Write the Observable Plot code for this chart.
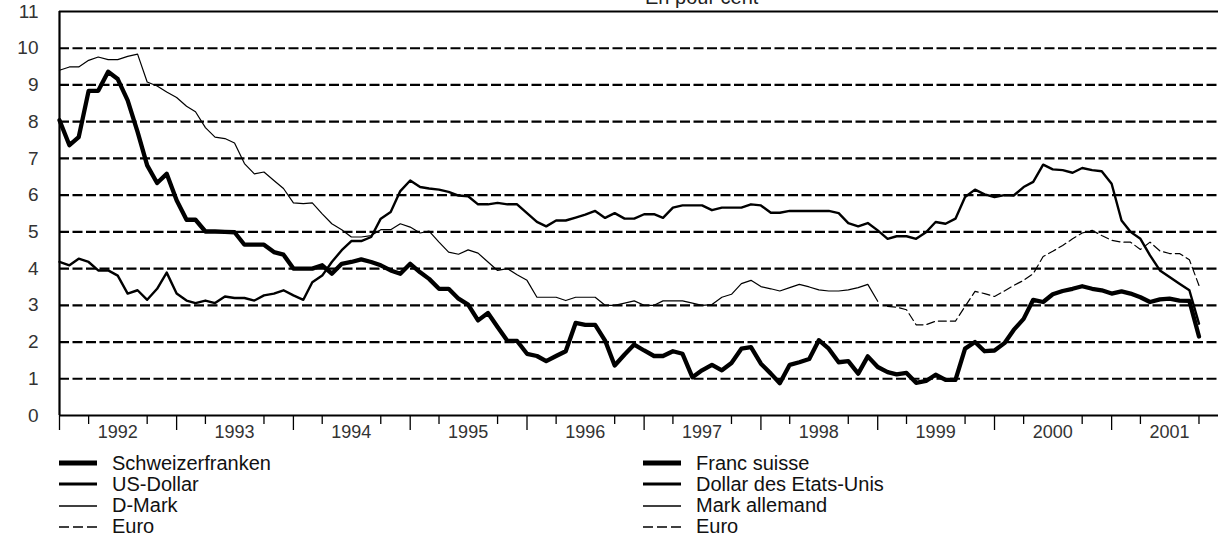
<!DOCTYPE html>
<html><head><meta charset="utf-8">
<script src="https://cdn.jsdelivr.net/npm/d3@7"></script>
<script src="https://cdn.jsdelivr.net/npm/@observablehq/plot@0.6"></script>
<style>
body{margin:0;background:#fff;}
#wrap{position:relative;width:1218px;height:533px;overflow:hidden;font-family:"Liberation Sans",Arial,sans-serif;}
#unit{position:absolute;top:-12px;left:645px;font-size:20px;line-height:19px;color:#222;white-space:nowrap;}
#legend{position:absolute;left:0;top:445px;width:1218px;height:88px;}
.item{position:absolute;height:22px;display:flex;align-items:center;font-size:20px;color:#111;white-space:nowrap;}
.item svg{margin-right:15px;}
</style></head>
<body><div id="wrap"><div id="chart"></div><div id="unit">En pour cent</div><div id="legend"></div></div>
<script>
// ---- data (monthly, Jan 1992 onwards; per cent) ----
const seriesNamesDe = ["Schweizerfranken", "US-Dollar", "D-Mark", "Euro"];
const seriesNamesFr = ["Franc suisse", "Dollar des Etats-Unis", "Mark allemand", "Euro"];
const yLabels = [0,1,2,3,4,5,6,7,8,9,10,11];
const gridValues = [1,2,3,4,5,6,7,8,9,10];

const chf = [8.04,7.36,7.58,8.84,8.84,9.36,9.16,8.58,7.72,6.81,6.33,6.58,
5.86,5.33,5.33,5.01,5.01,5.00,4.99,4.65,4.65,4.65,4.45,4.38,
4.00,4.00,4.00,4.09,3.86,4.13,4.18,4.25,4.18,4.09,3.95,3.86,
4.13,3.90,3.72,3.45,3.45,3.18,3.02,2.59,2.79,2.41,2.03,2.03,
1.68,1.62,1.48,1.62,1.75,2.52,2.47,2.47,2.04,1.36,1.66,1.93,
1.77,1.62,1.62,1.75,1.68,1.04,1.23,1.38,1.23,1.43,1.82,1.86,
1.41,1.14,0.88,1.38,1.45,1.54,2.05,1.82,1.45,1.48,1.14,1.61,
1.32,1.18,1.12,1.16,0.89,0.94,1.11,0.97,0.97,1.82,2.00,1.75,
1.77,1.97,2.33,2.63,3.15,3.09,3.30,3.39,3.45,3.52,3.45,3.41,
3.32,3.38,3.32,3.22,3.09,3.16,3.18,3.13,3.12,2.15];

const usd = [4.18,4.09,4.27,4.18,3.95,3.95,3.81,3.32,3.41,3.15,3.45,3.89,
3.32,3.13,3.06,3.13,3.06,3.24,3.20,3.20,3.13,3.27,3.32,3.41,
3.27,3.15,3.63,3.81,4.18,4.50,4.75,4.75,4.86,5.36,5.54,6.11,
6.40,6.22,6.18,6.15,6.09,5.99,5.97,5.75,5.75,5.79,5.75,5.75,
5.51,5.27,5.15,5.31,5.31,5.39,5.47,5.57,5.38,5.51,5.36,5.36,
5.48,5.48,5.38,5.66,5.72,5.72,5.72,5.59,5.66,5.66,5.66,5.75,
5.72,5.52,5.52,5.57,5.57,5.57,5.57,5.57,5.51,5.24,5.15,5.24,
5.04,4.81,4.88,4.88,4.81,4.99,5.27,5.22,5.36,5.95,6.15,6.02,
5.95,6.00,5.99,6.22,6.36,6.83,6.70,6.68,6.61,6.74,6.68,6.65,
6.31,5.31,5.00,4.81,4.36,3.95,3.77,3.59,3.41,2.50];

const dem = [9.40,9.49,9.49,9.67,9.76,9.69,9.69,9.78,9.84,9.08,8.97,8.81,
8.66,8.42,8.27,7.84,7.58,7.54,7.42,6.86,6.58,6.63,6.40,6.18,
5.79,5.77,5.79,5.49,5.22,5.06,4.86,4.86,4.90,5.06,5.06,5.22,
5.13,4.97,5.02,4.72,4.45,4.39,4.51,4.42,4.18,3.95,4.00,3.83,
3.68,3.22,3.22,3.22,3.13,3.22,3.22,3.22,3.00,3.00,3.06,3.12,
3.00,3.00,3.12,3.12,3.12,3.06,3.00,3.02,3.22,3.30,3.59,3.68,
3.51,3.45,3.39,3.48,3.57,3.50,3.42,3.39,3.39,3.42,3.48,3.57,
3.11];

const eur = [2.97,2.95,2.88,2.47,2.47,2.57,2.57,2.57,2.97,3.38,
3.32,3.24,3.39,3.54,3.68,3.86,4.33,4.47,4.63,4.81,4.97,5.04,
4.90,4.77,4.72,4.72,4.52,4.72,4.48,4.41,4.41,4.24,3.54];

// ---- build ----
const start = new Date(Date.UTC(1992,0,1));
const end = new Date(Date.UTC(2001,11,1));
const months = d3.utcMonth.range(start, new Date(Date.UTC(2001,10,1)));
const rows = (vals, offset) => vals.map((v,i)=>({date: months[i+offset], v}));
const chfRows = rows(chf, 0), usdRows = rows(usd, 0), demRows = rows(dem, 0);
const eurRows = rows(eur, months.length - eur.length);

const yearStarts = d3.utcYear.range(start, new Date(Date.UTC(2002,0,1)));
const quarterTicks = d3.utcMonth.range(start, new Date(Date.UTC(2002,0,1))).filter(d => d.getUTCMonth() === 3 || d.getUTCMonth() === 9);
const yearMids = yearStarts.map(d => new Date(Date.UTC(d.getUTCFullYear(), 6, 1)));

const pxPerUnit = (415 - 11) / 11;

const chart = Plot.plot({
  width: 1218, height: 445,
  marginLeft: 59, marginRight: 0, marginTop: 11, marginBottom: 30,
  x: {type: "utc", domain: [start, end], axis: null},
  y: {domain: [0, 11], axis: null},
  style: {fontFamily: "'Liberation Sans', Arial, sans-serif", background: "white", overflow: "visible"},
  marks: [
    Plot.ruleY(gridValues, {stroke: "#000", strokeWidth: 2.2, strokeDasharray: "10,3.5"}),
    Plot.line(demRows, {x: "date", y: "v", stroke: "#000", strokeWidth: 1.2}),
    Plot.line(eurRows, {x: "date", y: "v", stroke: "#000", strokeWidth: 1.2, strokeDasharray: "8,4"}),
    Plot.line(usdRows, {x: "date", y: "v", stroke: "#000", strokeWidth: 2.4}),
    Plot.line(chfRows, {x: "date", y: "v", stroke: "#000", strokeWidth: 4.3}),
    Plot.ruleY([0, 11], {stroke: "#000", strokeWidth: 2.2}),
    Plot.ruleX([start], {y1: 0, y2: 11, stroke: "#000", strokeWidth: 2.2}),
    Plot.ruleX(yearStarts, {y1: 0, y2: -15 / pxPerUnit, stroke: "#000", strokeWidth: 1.3}),
    Plot.ruleX(quarterTicks, {y1: 0, y2: -9 / pxPerUnit, stroke: "#000", strokeWidth: 1.3}),
    Plot.text(yLabels, {x: start, y: d => d, dx: -21, textAnchor: "end", fontSize: 19, fill: "#333"}),
    Plot.text(yearMids, {x: d => d, y: 0, dy: 17, text: d => String(d.getUTCFullYear()), fontSize: 18, fill: "#333"})
  ]
});
document.getElementById("chart").appendChild(chart);

// ---- legend ----
const legendStyles = [
  {w: 5, dash: null}, {w: 3, dash: null}, {w: 1.3, dash: null}, {w: 1.3, dash: "10,4"}
];
const legend = document.getElementById("legend");
[[59, seriesNamesDe], [643, seriesNamesFr]].forEach(([left, names]) => {
  names.forEach((name, i) => {
    const s = legendStyles[i];
    const item = document.createElement("div");
    item.className = "item";
    item.style.left = left + "px";
    item.style.top = (18 + i * 21.3 - 11) + "px";
    item.innerHTML = `<svg width="38" height="10"><line x1="0" x2="38" y1="5" y2="5" stroke="#000" stroke-width="${s.w}" ${s.dash ? `stroke-dasharray="${s.dash}"` : ""}/></svg><span>${name}</span>`;
    legend.appendChild(item);
  });
});
</script></body></html>
